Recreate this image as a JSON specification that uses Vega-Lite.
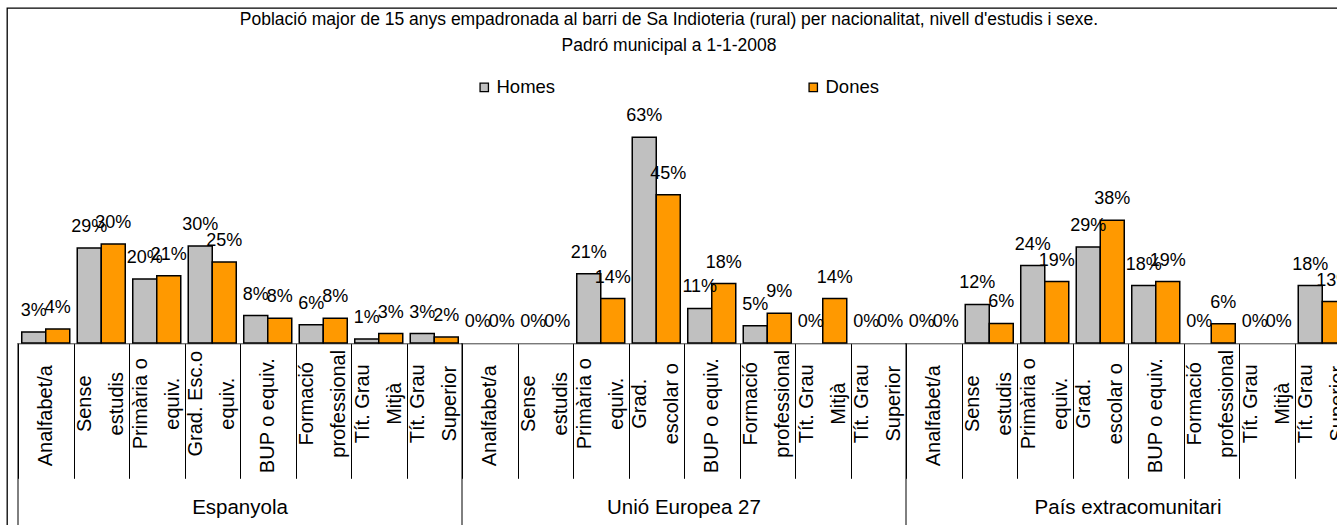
{
  "$schema": "https://vega.github.io/schema/vega-lite/v6.json",
  "width": 1336,
  "height": 520,
  "autosize": "none",
  "padding": {"left": 7, "top": 8, "right": -6, "bottom": -3},
  "config": {
    "font": "Liberation Sans",
    "view": {"stroke": "#000", "strokeWidth": 1.3},
    "text": {"font": "Liberation Sans"}
  },
  "title": {
    "text": ["Població major de 15 anys empadronada al barri de Sa Indioteria (rural) per nacionalitat, nivell d'estudis i sexe.", "Padró municipal a 1-1-2008"],
    "fontSize": 17.5,
    "fontWeight": "normal",
    "font": "Liberation Sans",
    "color": "#000",
    "anchor": "middle",
    "frame": "group",
    "offset": -46,
    "lineHeight": 26,
    "dx": -6
  },
  "datasets": {
    "bars": [
      {"key": "E|Analfabet/a", "sex": "Homes", "value": 0.034},
      {"key": "E|Analfabet/a", "sex": "Dones", "value": 0.043},
      {"key": "E|Sense|estudis", "sex": "Homes", "value": 0.291},
      {"key": "E|Sense|estudis", "sex": "Dones", "value": 0.303},
      {"key": "E|Primària o|equiv.", "sex": "Homes", "value": 0.196},
      {"key": "E|Primària o|equiv.", "sex": "Dones", "value": 0.206},
      {"key": "E|Grad. Esc.o|equiv.", "sex": "Homes", "value": 0.297},
      {"key": "E|Grad. Esc.o|equiv.", "sex": "Dones", "value": 0.248},
      {"key": "E|BUP o equiv.", "sex": "Homes", "value": 0.084},
      {"key": "E|BUP o equiv.", "sex": "Dones", "value": 0.076},
      {"key": "E|Formació|professional", "sex": "Homes", "value": 0.056},
      {"key": "E|Formació|professional", "sex": "Dones", "value": 0.076},
      {"key": "E|Tít. Grau|Mitjà", "sex": "Homes", "value": 0.012},
      {"key": "E|Tít. Grau|Mitjà", "sex": "Dones", "value": 0.029},
      {"key": "E|Tít. Grau|Superior", "sex": "Homes", "value": 0.029},
      {"key": "E|Tít. Grau|Superior", "sex": "Dones", "value": 0.018},
      {"key": "U|Analfabet/a", "sex": "Homes", "value": 0},
      {"key": "U|Analfabet/a", "sex": "Dones", "value": 0},
      {"key": "U|Sense|estudis", "sex": "Homes", "value": 0},
      {"key": "U|Sense|estudis", "sex": "Dones", "value": 0},
      {"key": "U|Primària o|equiv.", "sex": "Homes", "value": 0.212},
      {"key": "U|Primària o|equiv.", "sex": "Dones", "value": 0.136},
      {"key": "U|Grad.|escolar o", "sex": "Homes", "value": 0.63},
      {"key": "U|Grad.|escolar o", "sex": "Dones", "value": 0.454},
      {"key": "U|BUP o equiv.", "sex": "Homes", "value": 0.106},
      {"key": "U|BUP o equiv.", "sex": "Dones", "value": 0.182},
      {"key": "U|Formació|professional", "sex": "Homes", "value": 0.053},
      {"key": "U|Formació|professional", "sex": "Dones", "value": 0.091},
      {"key": "U|Tít. Grau|Mitjà", "sex": "Homes", "value": 0},
      {"key": "U|Tít. Grau|Mitjà", "sex": "Dones", "value": 0.136},
      {"key": "U|Tít. Grau|Superior", "sex": "Homes", "value": 0},
      {"key": "U|Tít. Grau|Superior", "sex": "Dones", "value": 0},
      {"key": "P|Analfabet/a", "sex": "Homes", "value": 0},
      {"key": "P|Analfabet/a", "sex": "Dones", "value": 0},
      {"key": "P|Sense|estudis", "sex": "Homes", "value": 0.118},
      {"key": "P|Sense|estudis", "sex": "Dones", "value": 0.06},
      {"key": "P|Primària o|equiv.", "sex": "Homes", "value": 0.237},
      {"key": "P|Primària o|equiv.", "sex": "Dones", "value": 0.188},
      {"key": "P|Grad.|escolar o", "sex": "Homes", "value": 0.294},
      {"key": "P|Grad.|escolar o", "sex": "Dones", "value": 0.376},
      {"key": "P|BUP o equiv.", "sex": "Homes", "value": 0.176},
      {"key": "P|BUP o equiv.", "sex": "Dones", "value": 0.188},
      {"key": "P|Formació|professional", "sex": "Homes", "value": 0},
      {"key": "P|Formació|professional", "sex": "Dones", "value": 0.059},
      {"key": "P|Tít. Grau|Mitjà", "sex": "Homes", "value": 0},
      {"key": "P|Tít. Grau|Mitjà", "sex": "Dones", "value": 0},
      {"key": "P|Tít. Grau|Superior", "sex": "Homes", "value": 0.176},
      {"key": "P|Tít. Grau|Superior", "sex": "Dones", "value": 0.127}
    ],
    "groups": [
      {"name": "Espanyola", "first": "E|Analfabet/a", "mid": "E|BUP o equiv."},
      {"name": "Unió Europea 27", "first": "U|Analfabet/a", "mid": "U|BUP o equiv."},
      {"name": "País extracomunitari", "first": "P|Analfabet/a", "mid": "P|BUP o equiv."}
    ]
  },
  "layer": [
    {
      "data": {"name": "bars"},
      "transform": [{"filter": "datum.value > 0"}],
      "mark": {"type": "bar", "stroke": "#000", "strokeWidth": 1.5},
      "encoding": {
        "x": {
          "field": "key", "type": "nominal",
          "scale": {
            "domain": ["E|Analfabet/a", "E|Sense|estudis", "E|Primària o|equiv.", "E|Grad. Esc.o|equiv.", "E|BUP o equiv.", "E|Formació|professional", "E|Tít. Grau|Mitjà", "E|Tít. Grau|Superior",
                       "U|Analfabet/a", "U|Sense|estudis", "U|Primària o|equiv.", "U|Grad.|escolar o", "U|BUP o equiv.", "U|Formació|professional", "U|Tít. Grau|Mitjà", "U|Tít. Grau|Superior",
                       "P|Analfabet/a", "P|Sense|estudis", "P|Primària o|equiv.", "P|Grad.|escolar o", "P|BUP o equiv.", "P|Formació|professional", "P|Tít. Grau|Mitjà", "P|Tít. Grau|Superior"],
            "range": [11, 1343],
            "paddingInner": 0,
            "paddingOuter": 0
          },
          "axis": {
            "orient": "bottom",
            "offset": -184.7,
            "title": null,
            "domainColor": "#404040",
            "domainWidth": 1,
            "ticks": true,
            "tickBand": "extent",
            "tickSize": 135,
            "tickColor": "#000",
            "tickWidth": 1,
            "labels": false
          }
        },
        "xOffset": {
          "field": "sex", "type": "nominal",
          "scale": {"domain": ["Homes", "Dones"], "paddingInner": 0, "paddingOuter": 0.156}
        },
        "y": {
          "field": "value", "type": "quantitative",
          "scale": {"domain": [-0.5666, 1.026], "nice": false, "zero": false},
          "axis": null
        },
        "y2": {"datum": 0},
        "color": {
          "field": "sex", "type": "nominal",
          "scale": {"domain": ["Homes", "Dones"], "range": ["#C0C0C0", "#FF9900"]},
          "legend": {
            "orient": "none",
            "legendX": 468,
            "legendY": 70,
            "direction": "horizontal",
            "title": null,
            "symbolType": "square",
            "symbolSize": 70,
            "symbolStrokeColor": "#000",
            "symbolStrokeWidth": 1.3,
            "labelFontSize": 18.5,
            "labelFont": "Liberation Sans",
            "labelColor": "#000",
            "labelOffset": 3,
            "columnPadding": 248
          }
        }
      }
    },
    {
      "data": {"name": "bars"},
      "mark": {"type": "text", "baseline": "middle", "align": "center", "dy": -21, "fontSize": 18, "color": "#000"},
      "encoding": {
        "x": {"field": "key", "type": "nominal"},
        "xOffset": {"field": "sex", "type": "nominal"},
        "y": {"field": "value", "type": "quantitative"},
        "text": {"field": "value", "type": "quantitative", "format": ".0%"}
      }
    },
    {
      "data": {"name": "bars"},
      "transform": [
        {"filter": "datum.sex == 'Homes'"},
        {"calculate": "slice(split(datum.key, '|'), 1)", "as": "lines"},
        {"filter": "length(datum.lines) == 1"}
      ],
      "mark": {"type": "text", "angle": 270, "baseline": "middle", "align": "center", "fontSize": 20, "color": "#000"},
      "encoding": {
        "x": {"field": "key", "type": "nominal"},
        "y": {"datum": -0.2227},
        "text": {"field": "lines"}
      }
    },
    {
      "data": {"name": "bars"},
      "transform": [
        {"filter": "datum.sex == 'Homes'"},
        {"calculate": "slice(split(datum.key, '|'), 1)", "as": "lines"},
        {"filter": "length(datum.lines) == 2"}
      ],
      "mark": {"type": "text", "angle": 270, "baseline": "middle", "align": "center", "fontSize": 20, "lineHeight": 32, "dy": -16, "color": "#000"},
      "encoding": {
        "x": {"field": "key", "type": "nominal"},
        "y": {"datum": -0.186},
        "text": {"field": "lines"}
      }
    },
    {
      "data": {"name": "groups"},
      "mark": {"type": "rule", "color": "#000", "strokeWidth": 1},
      "encoding": {
        "x": {"field": "first", "type": "nominal", "bandPosition": 0},
        "y": {"datum": 0},
        "y2": {"datum": -0.5666}
      }
    },
    {
      "data": {"name": "groups"},
      "mark": {"type": "text", "baseline": "middle", "align": "center", "fontSize": 20.5, "color": "#000"},
      "encoding": {
        "x": {"field": "mid", "type": "nominal", "bandPosition": 0},
        "y": {"datum": -0.5044},
        "text": {"field": "name", "type": "nominal"}
      }
    }
  ]
}
